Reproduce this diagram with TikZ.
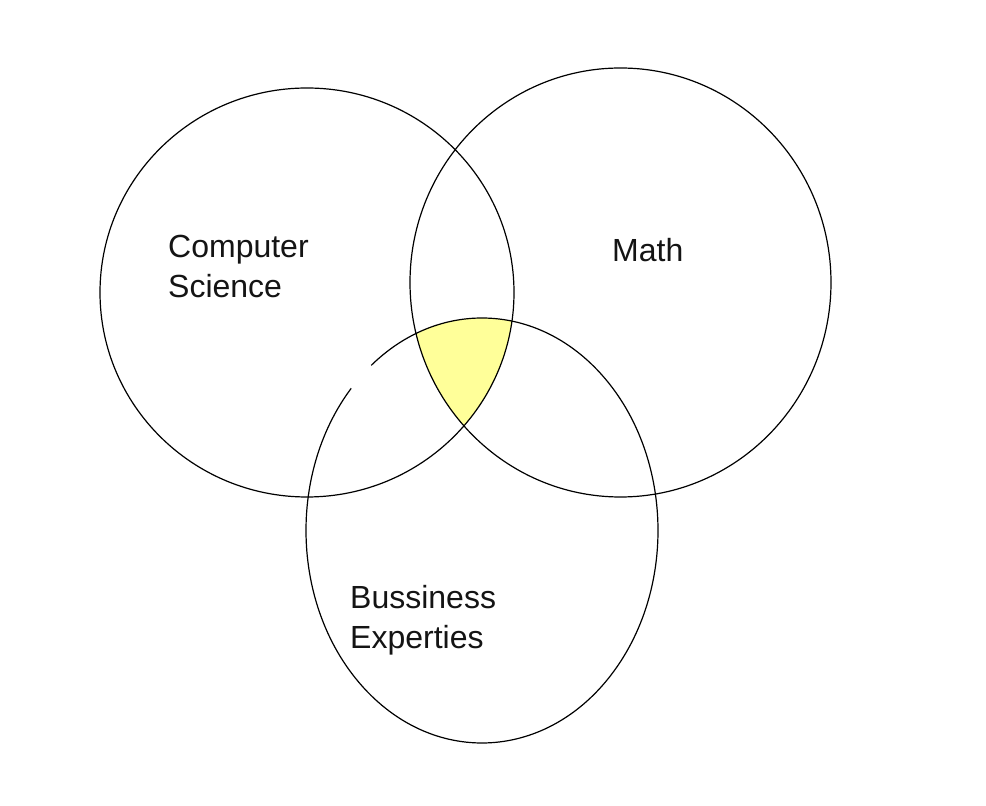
\documentclass[tikz,border=0pt]{standalone}
\usepackage{fontspec}
\setmainfont{Liberation Sans}
\definecolor{venny}{RGB}{255,255,153}
\begin{document}
\begin{tikzpicture}[x=1pt,y=1pt,
  ring/.style={draw=black,line width=1.2pt},
  lbl/.style={anchor=base west,inner sep=0pt,font=\fontsize{32}{38}\selectfont,text=black!92}]
\useasboundingbox[fill=white] (0,0) rectangle (986,806);
% yellow triple intersection
\begin{scope}
  \clip (307,513.5) ellipse[x radius=207,y radius=204.5];
  \clip (620.5,523.5) ellipse[x radius=210.5,y radius=214.5];
  \fill[venny] (482,275.5) ellipse[x radius=176,y radius=212.5];
\end{scope}
% Computer Science
\draw[ring] (307,513.5) ellipse[x radius=207,y radius=204.5];
% Math
\draw[ring] (620.5,523.5) ellipse[x radius=210.5,y radius=214.5];
% Bussiness Experties (with small gap)
\draw[ring] (482,275.5) ++(138:176 and 212.5) arc[start angle=138,end angle=489,x radius=176,y radius=212.5];
\node[lbl] (cs1) at (168,548) {Computer};
\node[lbl] (cs2) at (168,508) {Science};
\node[lbl] (math) at (612,544) {Math};
\node[lbl] (be1) at (350,197) {Bussiness};
\node[lbl] (be2) at (350,157) {Experties};
\end{tikzpicture}
\end{document}
